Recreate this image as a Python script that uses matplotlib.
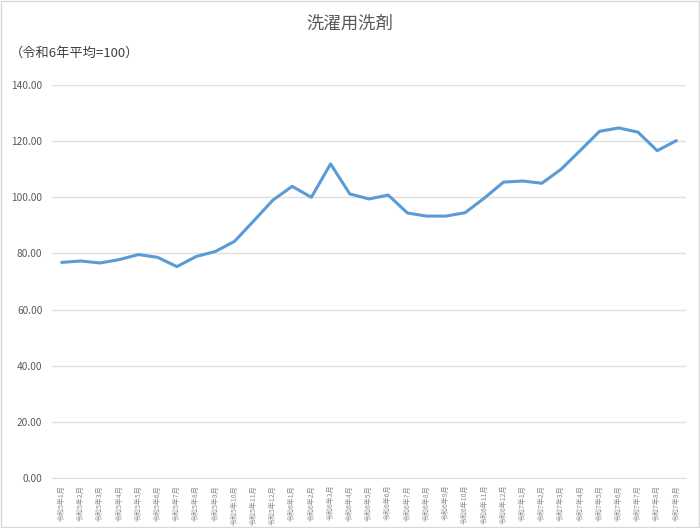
# 洗濯用洗剤 index chart (令和6年平均=100)

import numpy as np
import matplotlib
matplotlib.use('Agg')
import matplotlib.pyplot as plt
from matplotlib.patches import Rectangle

plt.rcParams['font.family'] = ['Noto Sans CJK JP', 'DejaVu Sans']

# data
months = (['令和5年%d月' % m for m in range(1, 13)]
          + ['令和6年%d月' % m for m in range(1, 13)]
          + ['令和7年%d月' % m for m in range(1, 10)])
index_values = [76.8, 77.3, 76.6, 77.8, 79.6, 78.6, 75.3, 78.9, 80.7, 84.3,
                91.6, 99.0, 103.9, 100.0, 111.9, 101.2, 99.4, 100.8, 94.4, 93.3,
                93.3, 94.5, 99.7, 105.4, 105.8, 105.0, 110.0, 116.7, 123.5, 124.7,
                123.2, 116.6, 120.2]
y_ticks = [0, 20, 40, 60, 80, 100, 120, 140]

grey_text = '#595959'
grid_color = '#e0e0e0'

fig = plt.figure(figsize=(7.0, 5.28), dpi=100)
ax = fig.add_axes([0.0743, 0.0947, 0.9057, 0.7443])

x = np.arange(len(months))
ax.plot(x, index_values, color='#5b9bd5', lw=2.2, solid_capstyle='round')

ax.set_xlim(-0.5, len(months) - 0.5)
ax.set_ylim(0, 140)
ax.set_yticks(y_ticks)
ax.set_yticklabels(['%.2f' % v for v in y_ticks], fontsize=7.3, color=grey_text)
ax.set_xticks(x)
ax.set_xticklabels(months, rotation=90, fontsize=5.0, color='#8c8c8c', va='top')
ax.tick_params(axis='y', length=0, pad=7)
ax.tick_params(axis='x', length=0, pad=5)
ax.grid(axis='y', color=grid_color, lw=1)
ax.set_axisbelow(True)
for s in ['top', 'right', 'left']:
    ax.spines[s].set_visible(False)
ax.spines['bottom'].set_color(grid_color)

fig.text(0.5, 1 - 24 / 528, '洗濯用洗剤', ha='center', va='center',
         fontsize=12.5, color=grey_text)
fig.text(10 / 700, 1 - 53 / 528, '（令和6年平均=100）', ha='left', va='center',
         fontsize=9.5, color='#404040')

fig.patches.append(Rectangle((0.001, 0.001), 0.997, 0.997, transform=fig.transFigure,
                             fill=False, edgecolor='#d9d9d9', lw=1))

fig.savefig('out.png', dpi=100, facecolor='white')
